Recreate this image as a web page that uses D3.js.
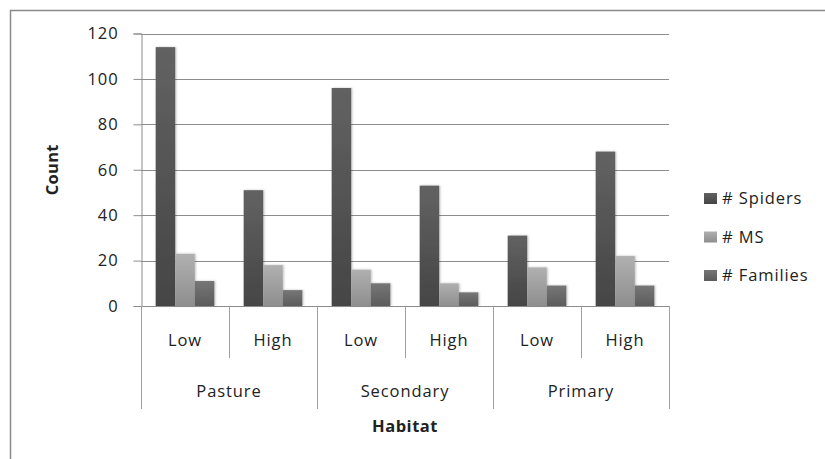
<!DOCTYPE html>
<html>
<head>
<meta charset="utf-8">
<style>
  body { margin: 0; background: #fff; }
  text { font-family: "Open Sans", "DejaVu Sans", sans-serif; fill: #222; }
</style>
<script src="https://cdn.jsdelivr.net/npm/d3@7"></script>
</head>
<body>
<div id="chart"></div>
<script>
  // data
  var habitats = ["Pasture", "Secondary", "Primary"];
  var levels = ["Low", "High"];
  var seriesNames = ["# Spiders", "# MS", "# Families"];
  var spiders = [114, 51, 96, 53, 31, 68];
  var ms = [23, 18, 16, 10, 17, 22];
  var families = [11, 7, 10, 6, 9, 9];
  var yTicks = [0, 20, 40, 60, 80, 100, 120];

  var W = 825, H = 459;
  // plot box (window.top is read-only, so no "top" here)
  var plot = { left: 141, right: 669, top: 33.5, bottom: 306 };
  var fs = "16.5px", ls = "0.9px";

  var svg = d3.select("#chart").append("svg")
    .attr("width", W).attr("height", H);

  // outer chart border
  svg.append("rect")
    .attr("x", 10.5).attr("y", 10.5)
    .attr("width", 900).attr("height", 600)
    .attr("fill", "none").attr("stroke", "#8a8a8a").attr("stroke-width", 1.5);

  var defs = svg.append("defs");
  var colors = [["#626262", "#454545"], ["#b0b0b0", "#8e8e8e"], ["#767676", "#5c5c5c"]];
  colors.forEach(function (c, i) {
    var g = defs.append("linearGradient").attr("id", "grad" + i)
      .attr("x1", 0).attr("y1", 0).attr("x2", 0).attr("y2", 1);
    g.append("stop").attr("offset", "0%").attr("stop-color", c[0]);
    g.append("stop").attr("offset", "100%").attr("stop-color", c[1]);
  });
  var f = defs.append("filter").attr("id", "shadow")
    .attr("x", "-30%").attr("y", "-10%").attr("width", "160%").attr("height", "120%");
  f.append("feDropShadow").attr("dx", 1).attr("dy", 0).attr("stdDeviation", 1.2)
    .attr("flood-color", "#000").attr("flood-opacity", 0.25);

  var cats = [];
  habitats.forEach(function (h) {
    levels.forEach(function (l) { cats.push(h + "|" + l); });
  });

  var x0 = d3.scaleBand().domain(cats).range([plot.left, plot.right]).paddingInner(0).paddingOuter(0);
  var x1 = d3.scaleBand().domain(seriesNames).range([0, x0.bandwidth()])
    .paddingInner(0).paddingOuter(0.75);
  var y = d3.scaleLinear().domain([0, 120]).range([plot.bottom, plot.top]);

  // grid lines
  svg.append("g").selectAll("line").data(yTicks.filter(function (d) { return d > 0; }))
    .enter().append("line")
    .attr("x1", plot.left).attr("x2", plot.right)
    .attr("y1", function (d) { return Math.round(y(d)) + 0.5; })
    .attr("y2", function (d) { return Math.round(y(d)) + 0.5; })
    .attr("stroke", "#8c8c8c").attr("stroke-width", 1);

  // y axis
  var yAxis = svg.append("g")
    .attr("transform", "translate(" + (plot.left + 0.5) + ",0)")
    .call(d3.axisLeft(y).tickValues(yTicks).tickSize(8).tickPadding(15));
  yAxis.select(".domain").attr("stroke", "#8c8c8c");
  yAxis.selectAll(".tick line").attr("stroke", "#8c8c8c");
  yAxis.selectAll(".tick text")
    .style("font-family", "'Open Sans', sans-serif").style("font-size", fs)
    .style("letter-spacing", ls).attr("fill", "#222");

  // bars
  var table = cats.map(function (c, i) {
    return { cat: c, vals: [spiders[i], ms[i], families[i]] };
  });
  var groups = svg.append("g").selectAll("g").data(table).enter().append("g")
    .attr("transform", function (d) { return "translate(" + x0(d.cat) + ",0)"; });
  groups.selectAll("rect")
    .data(function (d) { return d.vals.map(function (v, i) { return { name: seriesNames[i], v: v, i: i }; }); })
    .enter().append("rect")
    .attr("x", function (d) { return x1(d.name); })
    .attr("width", x1.bandwidth())
    .attr("y", function (d) { return y(d.v); })
    .attr("height", function (d) { return y(0) - y(d.v); })
    .attr("fill", function (d) { return "url(#grad" + d.i + ")"; })
    .attr("filter", "url(#shadow)");

  // x axis baseline
  svg.append("line")
    .attr("x1", plot.left).attr("x2", plot.right)
    .attr("y1", plot.bottom + 0.5).attr("y2", plot.bottom + 0.5)
    .attr("stroke", "#8c8c8c");

  // separators
  var axisG = svg.append("g");
  d3.range(cats.length + 1).forEach(function (k) {
    var xx = Math.round(plot.left + k * x0.bandwidth()) + 0.5;
    var long = k % 2 === 0;
    axisG.append("line")
      .attr("x1", xx).attr("x2", xx)
      .attr("y1", plot.bottom).attr("y2", long ? 409 : 358)
      .attr("stroke", "#a0a0a0");
  });

  // level labels
  axisG.selectAll("text.lvl").data(cats).enter().append("text")
    .attr("class", "lvl")
    .attr("x", function (d) { return x0(d) + x0.bandwidth() / 2; })
    .attr("y", 346)
    .attr("text-anchor", "middle")
    .style("font-size", fs).style("letter-spacing", ls)
    .text(function (d) { return d.split("|")[1]; });

  // habitat labels
  axisG.selectAll("text.hab").data(habitats).enter().append("text")
    .attr("class", "hab")
    .attr("x", function (d) { return x0(d + "|Low") + x0.bandwidth(); })
    .attr("y", 397)
    .attr("text-anchor", "middle")
    .style("font-size", fs).style("letter-spacing", ls)
    .text(function (d) { return d; });

  // axis titles
  svg.append("text")
    .attr("x", (plot.left + plot.right) / 2).attr("y", 432)
    .attr("text-anchor", "middle")
    .style("font-size", fs).style("letter-spacing", "0.5px").style("font-weight", "bold")
    .text("Habitat");
  svg.append("text")
    .attr("transform", "translate(58," + ((plot.top + plot.bottom) / 2) + ") rotate(-90)")
    .attr("text-anchor", "middle")
    .style("font-size", fs).style("letter-spacing", "0.3px").style("font-weight", "bold")
    .text("Count");

  // legend
  var legend = svg.append("g").selectAll("g").data(seriesNames).enter().append("g")
    .attr("transform", function (d, i) { return "translate(704," + (193 + i * 38.5) + ")"; });
  legend.append("rect")
    .attr("width", 13).attr("height", 11)
    .attr("fill", function (d, i) { return "url(#grad" + i + ")"; });
  legend.append("text")
    .attr("x", 18).attr("y", 11)
    .style("font-size", fs).style("letter-spacing", ls)
    .text(function (d) { return d; });
</script>
</body>
</html>
